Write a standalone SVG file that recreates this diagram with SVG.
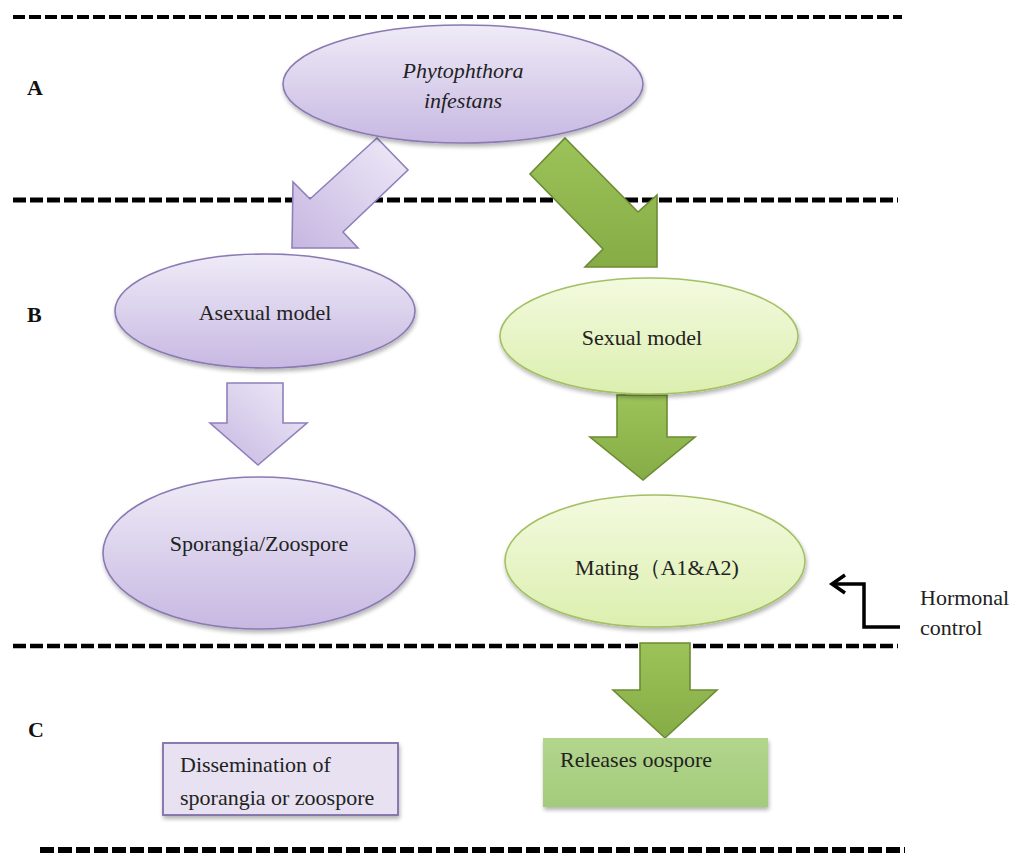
<svg xmlns="http://www.w3.org/2000/svg" width="1027" height="856" viewBox="0 0 1027 856">
<style>
.dash{fill:none;stroke:#000;}
.lbl{font-family:"Liberation Serif","Times New Roman",serif;font-weight:bold;font-size:22px;fill:#111;}
.t{font-family:"Liberation Serif","Times New Roman",serif;font-size:22px;fill:#222;}
.pe{fill:url(#pg);stroke:#8a7ab3;stroke-width:1.6;filter:url(#sh);}
.ge{fill:url(#gg);stroke:#a3c063;stroke-width:1.6;filter:url(#sh);}
.ga{fill:url(#ga);stroke:#6c8b33;stroke-width:1.6;}
.pa{fill:url(#pa);stroke:#8f80bb;stroke-width:1.6;}
</style>
<defs>
<linearGradient id="pg" x1="0" y1="0" x2="0" y2="1"><stop offset="0" stop-color="#efebf7"/><stop offset="1" stop-color="#c7b8e2"/></linearGradient>
<linearGradient id="gg" x1="0" y1="0" x2="0" y2="1"><stop offset="0" stop-color="#f3fadf"/><stop offset="1" stop-color="#dcefaf"/></linearGradient>
<linearGradient id="ga" x1="0" y1="0" x2="0" y2="1"><stop offset="0" stop-color="#9cc25a"/><stop offset="1" stop-color="#86ad45"/></linearGradient>
<linearGradient id="pa" x1="1" y1="0" x2="0" y2="1"><stop offset="0" stop-color="#efebf8"/><stop offset="1" stop-color="#c6b6e1"/></linearGradient>
<linearGradient id="rb" x1="0" y1="0" x2="0" y2="1"><stop offset="0" stop-color="#b2d68c"/><stop offset="1" stop-color="#a4cb7b"/></linearGradient>
<filter id="sh" x="-10%" y="-10%" width="120%" height="130%"><feGaussianBlur in="SourceAlpha" stdDeviation="2"/><feOffset dx="1" dy="3"/><feComponentTransfer><feFuncA type="linear" slope="0.3"/></feComponentTransfer><feMerge><feMergeNode/><feMergeNode in="SourceGraphic"/></feMerge></filter>
</defs>
<rect width="1027" height="856" fill="#fff"/>
<g id="dividers">
<line class="dash" x1="13" y1="17" x2="902" y2="17" stroke-width="4" stroke-dasharray="12 4"/>
<line class="dash" x1="13" y1="200" x2="898" y2="200" stroke-width="5" stroke-dasharray="13 4"/>
<line class="dash" x1="13" y1="646" x2="898" y2="646" stroke-width="4.5" stroke-dasharray="13 4"/>
<line class="dash" x1="40" y1="850" x2="905" y2="850" stroke-width="6" stroke-dasharray="14 4"/>
</g>
<g id="labels">
<text class="lbl" x="27" y="95" font-family="'Liberation Serif', serif">A</text>
<text class="lbl" x="27" y="322" font-family="'Liberation Serif', serif">B</text>
<text class="lbl" x="28" y="737" font-family="'Liberation Serif', serif">C</text>
</g>
<g id="connectors">
<polygon class="pa" points="377,138 408,170 343,232 358,248 292,248 293,182 310,199"/>
<polygon class="ga" points="565,138 638,212 657,195 657,267 585,267 603,249 530,174"/>
<polygon class="pa" points="227,383 283,383 283,423 307,423 258,465 210,423 227,423"/>
<polygon class="ga" points="617,395 667,395 667,437 695,437 643,480 590,437 617,437"/>
<polygon class="ga" points="640,643 690,643 690,690 717,690 665,738 613,690 640,690"/>
<g id="hormonal-arrow" fill="none" stroke="#000" stroke-width="3.5">
<polyline points="832,584 864,584 864,627 900,627"/>
<polyline points="845,575 832,584 845,593"/>
</g>
</g>
<g id="phytophthora">
<ellipse class="pe" cx="463" cy="84" rx="180" ry="59"/>
<text class="t" x="463" y="78" text-anchor="middle" font-style="italic" font-size="24" font-family="'Liberation Serif', serif">Phytophthora</text>
<text class="t" x="463" y="108" text-anchor="middle" font-style="italic" font-size="24" font-family="'Liberation Serif', serif">infestans</text>
</g>
<g id="asexual">
<ellipse class="pe" cx="265" cy="311" rx="150" ry="57"/>
<text class="t" x="265" y="320" text-anchor="middle" font-family="'Liberation Serif', serif">Asexual model</text>
</g>
<g id="sporangia">
<ellipse class="pe" cx="259" cy="553" rx="156" ry="76"/>
<text class="t" x="259" y="551" text-anchor="middle" font-family="'Liberation Serif', serif">Sporangia/Zoospore</text>
</g>
<g id="sexual">
<ellipse class="ge" cx="649" cy="336" rx="149" ry="58"/>
<text class="t" x="642" y="345" text-anchor="middle" font-family="'Liberation Serif', serif">Sexual model</text>
</g>
<g id="mating">
<ellipse class="ge" cx="655" cy="561" rx="150" ry="66"/>
<text class="t" x="657" y="575" text-anchor="middle" font-family="'Liberation Serif', 'Noto Sans CJK SC', serif">Mating（A1&amp;A2)</text>
</g>
<g id="hormonal">
<text class="t" x="920" y="605" font-size="26" font-family="'Liberation Serif', serif">Hormonal</text>
<text class="t" x="920" y="635" font-size="26" font-family="'Liberation Serif', serif">control</text>
</g>
<g id="dissemination">
<rect x="163" y="743" width="235" height="72" fill="#e7e1f1" stroke="#7f6fa8" stroke-width="1.8" filter="url(#sh)"/>
<text class="t" x="180" y="772" font-family="'Liberation Serif', serif">Dissemination of</text>
<text class="t" x="180" y="805" font-family="'Liberation Serif', serif">sporangia or zoospore</text>
</g>
<g id="releases">
<rect x="543" y="738" width="225" height="69" fill="url(#rb)" filter="url(#sh)"/>
<text class="t" x="560" y="767" font-family="'Liberation Serif', serif">Releases oospore</text>
</g>
</svg>
